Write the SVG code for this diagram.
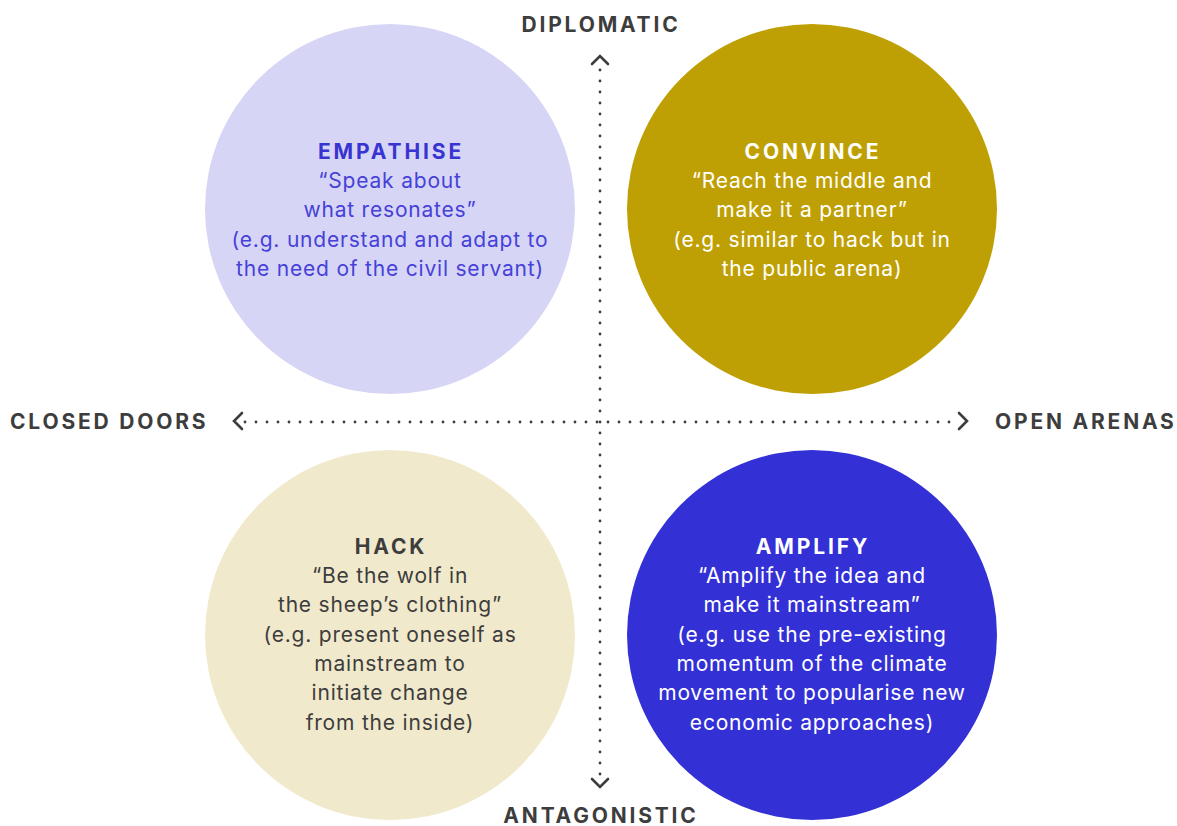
<svg xmlns="http://www.w3.org/2000/svg" width="1177" height="826" viewBox="0 0 1177 826">
<style>
.t{font-family:Inter,"Liberation Sans",Arial,sans-serif;font-size:21px;letter-spacing:0.8px;text-anchor:middle}
.h{font-family:Inter,"Liberation Sans",Arial,sans-serif;font-size:21px;font-weight:bold;letter-spacing:2.9px;text-anchor:middle}
.ax{font-family:Inter,"Liberation Sans",Arial,sans-serif;font-size:21px;font-weight:bold;letter-spacing:2.8px;fill:#3d3d3d}
.dot{stroke:#3d3d3d;stroke-width:2.8;stroke-linecap:round;stroke-dasharray:0 11;fill:none}
.chev{stroke:#3d3d3d;stroke-width:2.6;fill:none;stroke-linecap:round;stroke-linejoin:miter}
</style>
<rect width="1177" height="826" fill="#ffffff"/>
<g id="empathise">
<circle cx="390" cy="209" r="185" fill="#d7d5f5"/>
<text class="h" x="391" y="159" fill="#3734d2">EMPATHISE</text>
<text class="t" fill="#4641d8"><tspan x="390" y="188">“Speak about</tspan><tspan x="390" y="217">what resonates”</tspan><tspan x="390" y="247">(e.g. understand and adapt to</tspan><tspan x="390" y="276">the need of the civil servant)</tspan></text>
</g>
<g id="convince">
<circle cx="812" cy="209" r="185" fill="#bfa004"/>
<text class="h" x="813" y="159" fill="#ffffff">CONVINCE</text>
<text class="t" fill="#ffffff"><tspan x="812" y="188">“Reach the middle and</tspan><tspan x="812" y="217">make it a partner”</tspan><tspan x="812" y="247">(e.g. similar to hack but in</tspan><tspan x="812" y="276">the public arena)</tspan></text>
</g>
<g id="hack">
<circle cx="390" cy="635" r="185" fill="#f1e9cc"/>
<text class="h" x="391" y="554" fill="#3d3d3d">HACK</text>
<text class="t" fill="#3d3d3d"><tspan x="390" y="583">“Be the wolf in</tspan><tspan x="390" y="612">the sheep’s clothing”</tspan><tspan x="390" y="642">(e.g. present oneself as</tspan><tspan x="390" y="671">mainstream to</tspan><tspan x="390" y="700">initiate change</tspan><tspan x="390" y="730">from the inside)</tspan></text>
</g>
<g id="amplify">
<circle cx="812" cy="635" r="185" fill="#3330d6"/>
<text class="h" x="813" y="554" fill="#ffffff">AMPLIFY</text>
<text class="t" fill="#ffffff"><tspan x="812" y="583">“Amplify the idea and</tspan><tspan x="812" y="612">make it mainstream”</tspan><tspan x="812" y="642">(e.g. use the pre-existing</tspan><tspan x="812" y="671">momentum of the climate</tspan><tspan x="812" y="700">movement to popularise new</tspan><tspan x="812" y="730">economic approaches)</tspan></text>
</g>
<g id="connectors">
<line class="dot" x1="600" y1="70" x2="600" y2="776"/>
<line class="dot" x1="245" y1="422" x2="956" y2="422"/>
<polyline class="chev" points="592,64 600,56 608,64"/>
<polyline class="chev" points="592,779 600,787 608,779"/>
<polyline class="chev" points="242,413 234,421 242,429"/>
<polyline class="chev" points="959,413 967,421 959,429"/>
</g>
<g id="labels">
<text class="ax" x="601" y="32" text-anchor="middle">DIPLOMATIC</text>
<text class="ax" x="601" y="823" text-anchor="middle">ANTAGONISTIC</text>
<text class="ax" x="10" y="429">CLOSED DOORS</text>
<text class="ax" x="995" y="429">OPEN ARENAS</text>
</g>
</svg>
